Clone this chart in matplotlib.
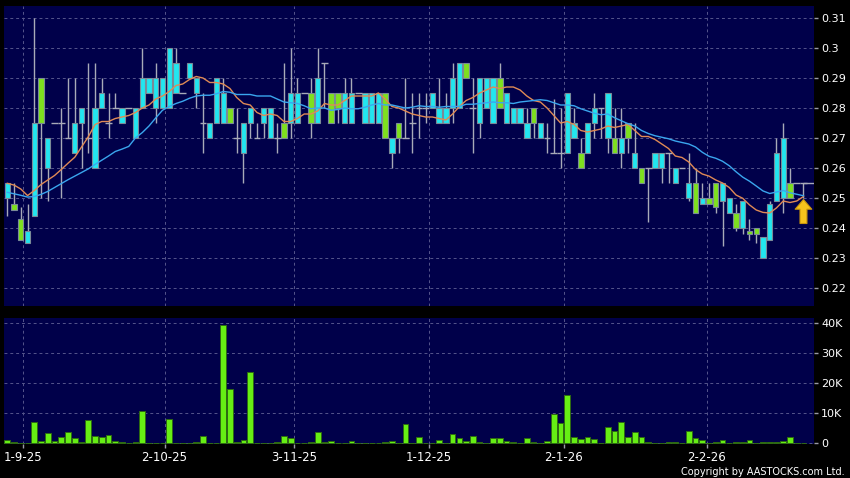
import matplotlib.pyplot as plt
import numpy as np
import pandas as pd

# daily candles (index 0 = 27-8-25)
opens = [0.250, 0.248, 0.243, 0.235, 0.244, 0.290, 0.260, 0.275, 0.275, 0.270,
         0.265, 0.275, 0.270, 0.260, 0.280, 0.275, 0.280, 0.275, 0.280, 0.270,
         0.280, 0.285, 0.280, 0.280, 0.280, 0.285, 0.285, 0.290, 0.285, 0.275,
         0.270, 0.275, 0.275, 0.280, 0.270, 0.265, 0.275, 0.270, 0.275, 0.270,
         0.270, 0.275, 0.275, 0.275, 0.285, 0.285, 0.275, 0.295, 0.285, 0.285,
         0.275, 0.275, 0.285, 0.275, 0.275, 0.275, 0.285, 0.265, 0.275, 0.270,
         0.275, 0.280, 0.280, 0.280, 0.275, 0.275, 0.280, 0.280, 0.295, 0.280,
         0.275, 0.280, 0.275, 0.290, 0.275, 0.275, 0.275, 0.270, 0.280, 0.270,
         0.270, 0.265, 0.265, 0.265, 0.270, 0.265, 0.265, 0.275, 0.280, 0.270,
         0.270, 0.265, 0.275, 0.260, 0.260, 0.260, 0.260, 0.260, 0.265, 0.255,
         0.260, 0.250, 0.255, 0.248, 0.250, 0.255, 0.249, 0.245, 0.245, 0.240,
         0.239, 0.240, 0.230, 0.236, 0.249, 0.250, 0.255, 0.255, 0.255]
highs = [0.255, 0.255, 0.247, 0.248, 0.310, 0.290, 0.270, 0.275, 0.280, 0.290,
         0.290, 0.280, 0.295, 0.295, 0.290, 0.285, 0.285, 0.280, 0.280, 0.280,
         0.300, 0.290, 0.295, 0.290, 0.300, 0.300, 0.285, 0.295, 0.290, 0.285,
         0.275, 0.290, 0.290, 0.280, 0.280, 0.275, 0.280, 0.275, 0.280, 0.280,
         0.275, 0.295, 0.300, 0.290, 0.285, 0.290, 0.300, 0.295, 0.285, 0.285,
         0.290, 0.290, 0.285, 0.285, 0.285, 0.285, 0.285, 0.270, 0.275, 0.290,
         0.285, 0.285, 0.285, 0.285, 0.290, 0.285, 0.295, 0.295, 0.295, 0.290,
         0.290, 0.290, 0.290, 0.295, 0.285, 0.280, 0.280, 0.280, 0.280, 0.275,
         0.275, 0.283, 0.280, 0.285, 0.280, 0.270, 0.275, 0.285, 0.280, 0.285,
         0.280, 0.280, 0.275, 0.275, 0.260, 0.260, 0.265, 0.265, 0.265, 0.260,
         0.260, 0.265, 0.260, 0.255, 0.255, 0.255, 0.255, 0.250, 0.248, 0.249,
         0.243, 0.240, 0.237, 0.249, 0.270, 0.275, 0.260, 0.255, 0.255]
lows = [0.244, 0.246, 0.236, 0.235, 0.244, 0.250, 0.249, 0.275, 0.250, 0.270,
        0.265, 0.260, 0.265, 0.260, 0.280, 0.270, 0.280, 0.275, 0.280, 0.270,
        0.280, 0.285, 0.275, 0.280, 0.280, 0.285, 0.285, 0.290, 0.280, 0.265,
        0.270, 0.275, 0.275, 0.275, 0.265, 0.255, 0.270, 0.270, 0.270, 0.270,
        0.265, 0.270, 0.270, 0.275, 0.285, 0.270, 0.275, 0.280, 0.275, 0.275,
        0.275, 0.275, 0.285, 0.275, 0.275, 0.275, 0.270, 0.260, 0.265, 0.270,
        0.265, 0.270, 0.275, 0.280, 0.275, 0.275, 0.275, 0.280, 0.290, 0.265,
        0.270, 0.280, 0.275, 0.280, 0.275, 0.275, 0.275, 0.270, 0.270, 0.270,
        0.265, 0.265, 0.260, 0.265, 0.270, 0.260, 0.265, 0.270, 0.270, 0.265,
        0.265, 0.260, 0.265, 0.260, 0.255, 0.242, 0.260, 0.255, 0.255, 0.255,
        0.260, 0.249, 0.245, 0.248, 0.248, 0.245, 0.234, 0.245, 0.239, 0.238,
        0.236, 0.235, 0.230, 0.236, 0.249, 0.245, 0.250, 0.255, 0.250]
closes = [0.255, 0.246, 0.236, 0.239, 0.275, 0.275, 0.270, 0.275, 0.275, 0.270,
          0.275, 0.280, 0.270, 0.280, 0.285, 0.275, 0.280, 0.280, 0.280, 0.280,
          0.290, 0.290, 0.290, 0.290, 0.300, 0.295, 0.285, 0.295, 0.290, 0.275,
          0.275, 0.290, 0.285, 0.275, 0.270, 0.275, 0.280, 0.270, 0.280, 0.280,
          0.270, 0.270, 0.285, 0.285, 0.285, 0.275, 0.290, 0.295, 0.275, 0.280,
          0.285, 0.285, 0.285, 0.285, 0.285, 0.285, 0.270, 0.270, 0.270, 0.270,
          0.275, 0.280, 0.280, 0.285, 0.280, 0.280, 0.290, 0.295, 0.290, 0.280,
          0.290, 0.290, 0.290, 0.280, 0.285, 0.280, 0.280, 0.275, 0.275, 0.275,
          0.270, 0.265, 0.265, 0.285, 0.275, 0.260, 0.275, 0.280, 0.280, 0.285,
          0.265, 0.270, 0.270, 0.265, 0.255, 0.260, 0.265, 0.265, 0.265, 0.260,
          0.260, 0.255, 0.245, 0.250, 0.248, 0.247, 0.255, 0.250, 0.240, 0.249,
          0.238, 0.238, 0.237, 0.248, 0.265, 0.270, 0.250, 0.255, 0.255]
# volume in thousands of shares
volume_k = [1.1, 0.6, 0.1, 0.2, 7.0, 0.7, 3.4, 0.8, 2.2, 3.7,
            1.8, 0.3, 7.7, 2.4, 2.2, 2.9, 0.8, 0.3, 0.0, 0.3,
            10.8, 0.1, 0.1, 0.1, 8.0, 0.1, 0.0, 0.1, 0.3, 2.4,
            0.1, 0.1, 39.4, 18.0, 0.3, 1.2, 23.9, 0.0, 0.0, 0.2,
            0.3, 2.3, 1.7, 0.0, 0.0, 0.3, 3.7, 0.3, 0.7, 0.1,
            0.1, 0.8, 0.0, 0.1, 0.1, 0.1, 0.3, 0.8, 0.0, 6.4,
            0.2, 2.2, 0.1, 0.1, 1.0, 0.1, 3.0, 1.8, 0.7, 2.4,
            0.4, 0.2, 1.7, 1.8, 0.7, 0.4, 0.1, 1.7, 0.4, 0.05,
            0.9, 9.8, 6.8, 16.1, 2.2, 1.6, 2.1, 1.4, 0.1, 5.6,
            4.0, 7.1, 2.1, 3.7, 2.2, 0.6, 0.2, 0.2, 0.3, 0.4,
            0.1, 4.0, 1.8, 1.0, 0.1, 0.6, 1.1, 0.1, 0.4, 0.3,
            1.1, 0.2, 0.4, 0.3, 0.6, 0.7, 2.2, 0.0, 0.05]

ma10_head = [0.2549, 0.2543, 0.2530, 0.2508, 0.2525, 0.2545, 0.2560, 0.2575, 0.2595]
ma20_head = [0.2519, 0.2514, 0.2509, 0.2503, 0.2505, 0.2512, 0.2522, 0.2535, 0.2548,
             0.2561, 0.2573, 0.2585, 0.2597, 0.2612, 0.2626, 0.2640, 0.2655, 0.2663,
             0.2672]

date_labels = ['1-9-25', '2-10-25', '3-11-25', '1-12-25', '2-1-26', '2-2-26']
date_pos = [2.3, 23.3, 42.5, 62.5, 82.5, 103.7]

o = np.array(opens)
h = np.array(highs)
l = np.array(lows)
c = np.array(closes)
vol = np.array(volume_k) * 1000
x = np.arange(len(c))

ma10 = pd.Series(c).rolling(10).mean().to_numpy()
ma10[:len(ma10_head)] = ma10_head
ma20 = pd.Series(c).rolling(20).mean().to_numpy()
ma20[:len(ma20_head)] = ma20_head

bg = '#00004a'
grid_c = '#55558c'
up_c = '#22e6ef'
down_c = '#7ee01e'
wick_c = '#a8aab8'

fig = plt.figure(figsize=(8.5, 4.78), dpi=100, facecolor='black')
ax = fig.add_axes([4 / 850, 1 - 306 / 478, 810 / 850, 300 / 478])
axv = fig.add_axes([4 / 850, 1 - 444 / 478, 810 / 850, 126 / 478])

for a in (ax, axv):
    a.set_facecolor(bg)
    for s in a.spines.values():
        s.set_visible(False)
    a.set_xlim(-0.49, 119.56)
    a.yaxis.tick_right()
    a.tick_params(axis='y', colors='#9a9aa8', labelcolor='white', length=3,
                  width=1, pad=2, labelsize=8)
    a.grid(True, axis='y', color=grid_c, linestyle=(0, (3, 3)), linewidth=0.7)
    for p in date_pos:
        a.axvline(p, color=grid_c, linestyle=(0, (3, 3)), linewidth=0.7, zorder=0.5)
    a.set_axisbelow(True)

# price panel
ax.set_ylim(0.214, 0.314)
ax.set_yticks(np.arange(0.22, 0.315, 0.01))
ax.set_yticklabels(['%g' % round(v, 2) for v in np.arange(0.22, 0.315, 0.01)])
ax.set_xticks([])

ax.vlines(x, l, h, color=wick_c, linewidth=1, zorder=2)
body = np.abs(c - o)
colors = [up_c if cc > oo else down_c for oo, cc in zip(o, c)]
mask = body > 0
ax.bar(x[mask], body[mask], bottom=np.minimum(o, c)[mask], width=0.8,
       color=np.array(colors)[mask], edgecolor='#7a8a98', linewidth=0.8, zorder=3)
doji = ~mask
ax.hlines(c[doji], x[doji] - 0.5, x[doji] + 0.5, color=wick_c, linewidth=1, zorder=3)
ax.hlines(c[-1], x[-1], 119.56, color=wick_c, linewidth=1, zorder=3)

ax.plot(x, ma10, color='#e08a55', linewidth=1, zorder=4)
ax.plot(x, ma20, color='#3aa6ee', linewidth=1, zorder=4)

ax.annotate('', xy=(x[-1], 0.2495), xytext=(x[-1], 0.2415),
            arrowprops=dict(facecolor='#f6c21c', edgecolor='#c8940c', width=5,
                            headwidth=12, headlength=7, linewidth=0.8), zorder=5)

# volume panel
axv.set_ylim(-200, 41700)
axv.set_yticks([0, 10000, 20000, 30000, 40000])
axv.set_yticklabels(['0', '10K', '20K', '30K', '40K'])
axv.bar(x, vol, width=0.85, color='#66ee14', edgecolor='#2e6a12', linewidth=0.7, zorder=3)
axv.set_xticks(date_pos)
axv.set_xticklabels(date_labels)
axv.tick_params(axis='x', colors='#9a9aa8', labelcolor='white', length=3,
                width=1, pad=2, labelsize=8.5)

fig.text(0.994, 0.003, 'Copyright by AASTOCKS.com Ltd.', color='white',
         fontsize=7, ha='right', va='bottom')

fig.savefig('out.png', dpi=100, facecolor='black')
